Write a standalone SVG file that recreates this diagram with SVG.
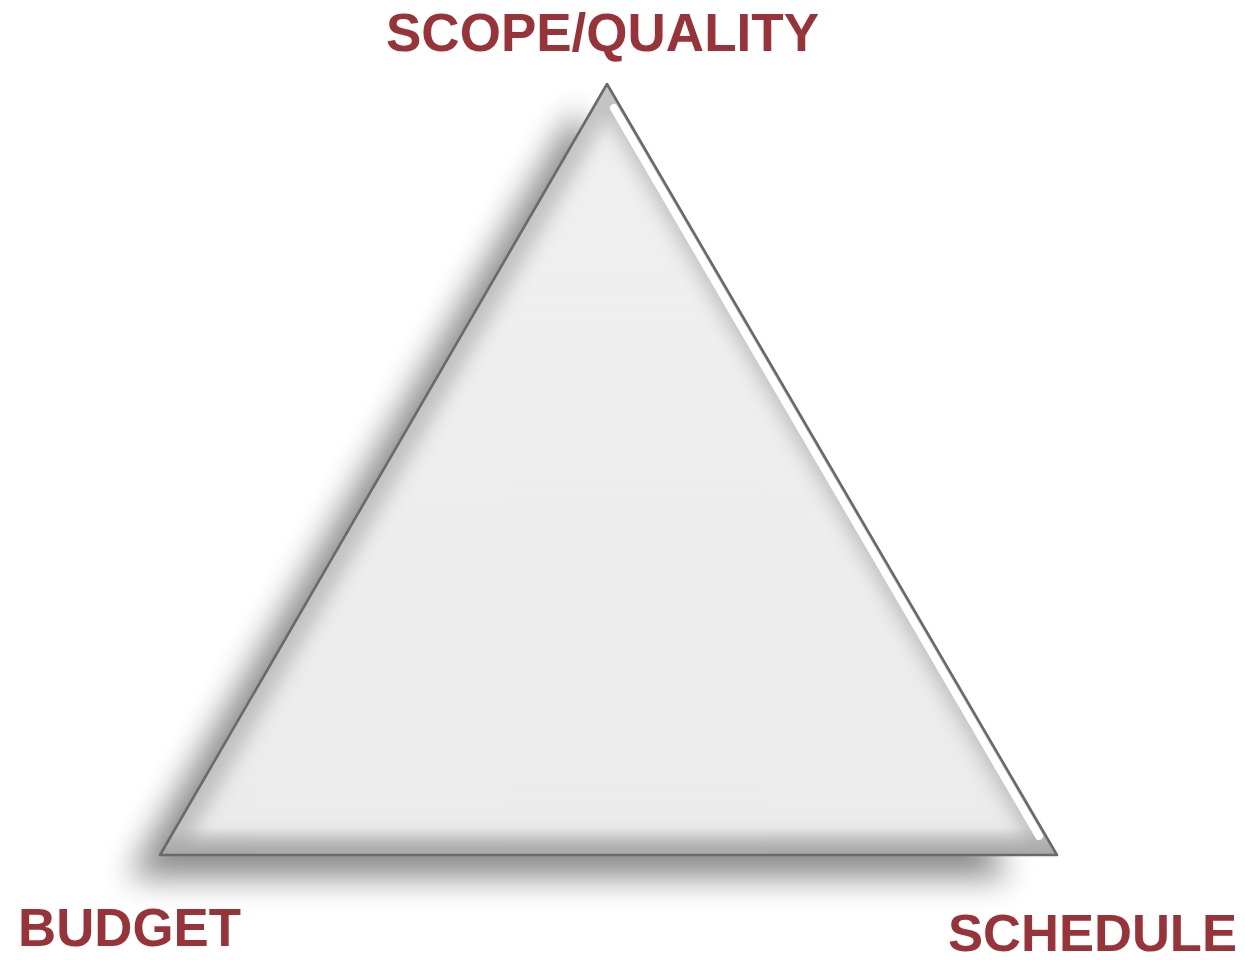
<svg xmlns="http://www.w3.org/2000/svg" width="1245" height="960" viewBox="0 0 1245 960">
  <style>
    .lbl { font-family: "Liberation Sans", Arial, sans-serif; font-weight: bold; fill: #973339; }
  </style>
  <defs>
    <filter id="shadowBlur" x="-20%" y="-20%" width="140%" height="140%">
      <feGaussianBlur stdDeviation="16"/>
    </filter>
    <filter id="innerBlur" x="-20%" y="-20%" width="140%" height="140%">
      <feGaussianBlur stdDeviation="9"/>
    </filter>
    <filter id="soft" x="-5%" y="-5%" width="110%" height="110%">
      <feGaussianBlur stdDeviation="0.7"/>
    </filter>
    <clipPath id="triClip">
      <polygon points="607,84 160,855 1057,855"/>
    </clipPath>
    <linearGradient id="faceGrad" x1="0" y1="0" x2="0" y2="1">
      <stop offset="0" stop-color="#f0f0f0"/>
      <stop offset="1" stop-color="#ebebeb"/>
    </linearGradient>
    <linearGradient id="bottomBand" x1="0" y1="0" x2="0" y2="1">
      <stop offset="0" stop-color="#8a8a8a" stop-opacity="0"/>
      <stop offset="1" stop-color="#8a8a8a" stop-opacity="0.5"/>
    </linearGradient>
  </defs>

  <g id="triangle">
    <!-- drop shadow -->
    <polygon points="575,110 128,878 1010,878" fill="#000" opacity="0.45" filter="url(#shadowBlur)"/>
    <!-- face -->
    <polygon points="607,84 160,855 1057,855" fill="url(#faceGrad)"/>
    <!-- inner bevel shading -->
    <g clip-path="url(#triClip)">
      <polygon points="607,84 160,855 1057,855" fill="none" stroke="#8c8c8c" stroke-width="34" opacity="0.45" filter="url(#innerBlur)"/>
      <rect x="150" y="828" width="920" height="28" fill="url(#bottomBand)"/>
      <!-- highlight strip on right edge -->
      <line x1="614" y1="108" x2="1039" y2="836" stroke="#ffffff" stroke-width="8" stroke-linecap="round"/>
    </g>
    <!-- outline -->
    <polygon points="607,84 160,855 1057,855" fill="none" stroke="#6a6a6a" stroke-width="2.6" stroke-linejoin="round" filter="url(#soft)"/>
    <line x1="162" y1="855.5" x2="1055" y2="855.5" stroke="#666" stroke-width="3" filter="url(#soft)"/>
  </g>

  <g id="label-scope">
    <text class="lbl" x="386" y="51" font-size="54" textLength="433" lengthAdjust="spacingAndGlyphs">SCOPE/QUALITY</text>
  </g>
  <g id="label-budget">
    <text class="lbl" x="18" y="946" font-size="53" textLength="223" lengthAdjust="spacingAndGlyphs">BUDGET</text>
  </g>
  <g id="label-schedule">
    <text class="lbl" x="948" y="951" font-size="52" textLength="289" lengthAdjust="spacingAndGlyphs">SCHEDULE</text>
  </g>
</svg>
